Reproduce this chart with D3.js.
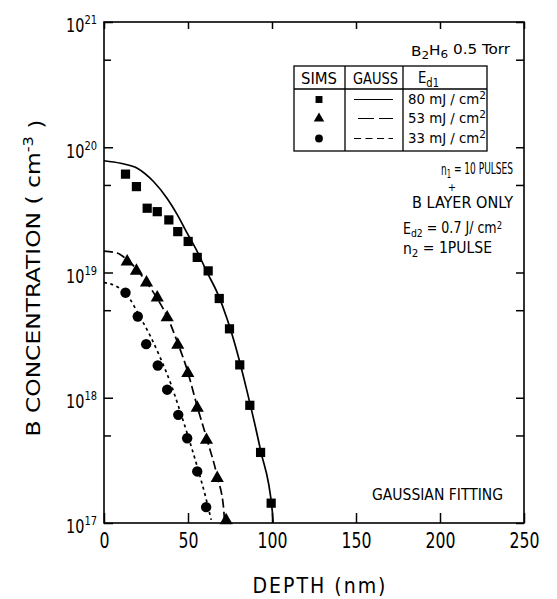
<!DOCTYPE html>
<html>
<head>
<meta charset="utf-8">
<script src="https://cdn.jsdelivr.net/npm/d3@7"></script>
<style>
  body { margin: 0; background: #fff; }
  svg { display: block; }
  text { font-family: "Liberation Sans Narrow", "DejaVu Sans Condensed", "Liberation Sans", sans-serif; fill: #000; }
</style>
</head>
<body>
<div id="chart"></div>
<script>
// SIMS data
var depth80 = [12.8, 19.3, 25.7, 31.7, 38.6, 43.9, 50.1, 55.5, 62, 68.6, 74.7, 80.8, 86.8, 93.2, 99.5];
var conc80 = [6.1e19, 4.85e19, 3.26e19, 3.06e19, 2.63e19, 2.12e19, 1.77e19, 1.32e19, 1.03e19, 6.2e18, 3.55e18, 1.83e18, 8.7e17, 3.66e17, 1.44e17];
var depth53 = [13.8, 19.3, 25.3, 31.7, 37.6, 43.9, 49.9, 55.5, 61, 67.4, 72.7];
var conc53 = [1.22e19, 1.03e19, 8.3e18, 6.3e18, 4.37e18, 2.64e18, 1.57e18, 8.3e17, 4.6e17, 2.28e17, 1.05e17];
var depth33 = [12.8, 20.1, 25.1, 32, 37.6, 44.2, 49.5, 55.5, 60.8];
var conc33 = [6.9e18, 4.45e18, 2.68e18, 1.81e18, 1.16e18, 7.3e17, 4.75e17, 2.58e17, 1.34e17];

// gaussian fitting curves
var fitDepth80 = [0, 9.8, 19.8, 29.6, 37.6, 43.6, 49.5, 55.5, 61.4, 67.4, 73.3, 79.3, 85.2, 93.2, 100.1, 100.7];
var fitConc80 = [7.8e19, 7.45e19, 6.8e19, 5.3e19, 3.9e19, 2.9e19, 2.06e19, 1.47e19, 1.0e19, 6.9e18, 4.25e18, 2.3e18, 1.12e18, 3.8e17, 1.27e17, 1.0e17];
var fitDepth53 = [0, 7.8, 13.8, 19.8, 25.7, 31.7, 37.6, 43.6, 49.5, 55.5, 61.4, 67.4, 71.3, 71.7];
var fitConc53 = [1.48e19, 1.43e19, 1.26e19, 1.05e19, 8.2e18, 6.2e18, 4.45e18, 2.8e18, 1.67e18, 8.5e17, 4.6e17, 2.35e17, 1.27e17, 1.0e17];
var fitDepth33 = [0, 7.8, 13.8, 20.7, 27.7, 33.6, 39.6, 44.5, 49.5, 55.5, 60.4, 63.8];
var fitConc33 = [8.3e18, 7.7e18, 6.6e18, 4.6e18, 3.08e18, 2.07e18, 1.31e18, 8.4e17, 5.2e17, 2.82e17, 1.63e17, 1.06e17];

var xTicks = [0, 50, 100, 150, 200, 250];
var yTicks = [1e17, 1e18, 1e19, 1e20, 1e21];
var yMinor = [5e17, 5e18, 5e19, 5e20];
var energies = ['80', '53', '33'];

var width = 557,
  height = 599;

var svg = d3
  .select('#chart')
  .append('svg')
  .attr('width', width)
  .attr('height', height);

var xScale = d3.scaleLinear().domain([0, 250]).range([104, 524]);
var yScale = d3.scaleLog().domain([1e17, 1e21]).range([523, 22]);

// squeeze a text to the width it has in the figure (the original font is narrow)
function fit(sel, w) {
  return sel.attr('textLength', w).attr('lengthAdjust', 'spacingAndGlyphs');
}

// frame
svg
  .append('rect')
  .attr('x', 104)
  .attr('y', 22)
  .attr('width', 420)
  .attr('height', 501)
  .attr('fill', 'none')
  .attr('stroke', '#000')
  .attr('stroke-width', 1.6);

function styleAxis(g) {
  g.select('.domain').remove();
  g.selectAll('.tick line').attr('stroke', '#000').attr('stroke-width', 1.5);
}

var xAxis = svg
  .append('g')
  .attr('transform', 'translate(0,523)')
  .call(d3.axisBottom(xScale).tickValues(xTicks).tickSize(-10).tickPadding(9))
  .call(styleAxis);
xAxis
  .selectAll('text')
  .style('font-size', '22px')
  .style('font-family', null)
  .attr('textLength', d => String(d).length * 10)
  .attr('lengthAdjust', 'spacingAndGlyphs');

svg
  .append('g')
  .attr('transform', 'translate(0,22)')
  .call(d3.axisTop(xScale).tickValues(xTicks).tickSize(-7).tickFormat(''))
  .call(styleAxis);

var yAxis = svg
  .append('g')
  .attr('transform', 'translate(104,0)')
  .call(d3.axisLeft(yScale).tickValues(yTicks).tickSize(-9).tickPadding(7))
  .call(styleAxis);

yAxis.selectAll('text').each(function (d) {
  var t = d3.select(this).text('').attr('dy', '0.52em').style('font-size', '19px').style('font-family', null);
  t.append('tspan').text('10');
  t.append('tspan')
    .attr('dy', '-0.62em')
    .style('font-size', '13px')
    .text(Math.round(Math.log10(d)));
  fit(t, 31);
});

svg
  .append('g')
  .attr('transform', 'translate(104,0)')
  .call(d3.axisLeft(yScale).tickValues(yMinor).tickSize(-7).tickFormat(''))
  .call(styleAxis);

svg
  .append('g')
  .attr('transform', 'translate(524,0)')
  .call(d3.axisRight(yScale).tickValues(yTicks.concat(yMinor)).tickSize(-8).tickFormat(''))
  .call(styleAxis);

// axis titles
fit(
  svg
    .append('text')
    .attr('x', 320)
    .attr('y', 593)
    .attr('text-anchor', 'middle')
    .style('font-size', '21px')
    .style('letter-spacing', '2px')
    .text('DEPTH  (nm)'),
  135
);

var yTitle = svg
  .append('text')
  .attr('transform', 'translate(40,278) rotate(-90)')
  .attr('text-anchor', 'middle')
  .style('font-size', '20px');
yTitle.append('tspan').text('B CONCENTRATION  ( cm');
yTitle.append('tspan').attr('dy', '-0.5em').style('font-size', '14px').text('-3');
yTitle.append('tspan').attr('dy', '0.5em').text(' )');
fit(yTitle, 317);

// fitting curves
var line = d3
  .line()
  .x(d => xScale(d[0]))
  .y(d => yScale(d[1]))
  .curve(d3.curveMonotoneX);

var fits = [
  { depth: fitDepth80, conc: fitConc80, dash: null },
  { depth: fitDepth53, conc: fitConc53, dash: '9,4' },
  { depth: fitDepth33, conc: fitConc33, dash: '3,3.5' }
];

fits.forEach(function (f) {
  svg
    .append('path')
    .datum(f.depth.map((d, i) => [d, f.conc[i]]))
    .attr('d', line)
    .attr('fill', 'none')
    .attr('stroke', '#000')
    .attr('stroke-width', 1.7)
    .attr('stroke-dasharray', f.dash);
});

// SIMS markers
var symbols = [d3.symbolSquare, d3.symbolTriangle, d3.symbolCircle];
var sizes = [85, 75, 85];
var series = [
  [depth80, conc80],
  [depth53, conc53],
  [depth33, conc33]
];

series.forEach(function (s, k) {
  svg
    .append('g')
    .selectAll('path')
    .data(s[0])
    .enter()
    .append('path')
    .attr('d', d3.symbol().type(symbols[k]).size(sizes[k]))
    .attr('transform', (d, i) => 'translate(' + xScale(d) + ',' + yScale(s[1][i]) + ')')
    .attr('fill', '#000');
});

// legend table
var lg = svg.append('g');
lg.append('rect')
  .attr('x', 294)
  .attr('y', 66)
  .attr('width', 193)
  .attr('height', 85)
  .attr('fill', '#fff')
  .attr('stroke', '#000')
  .attr('stroke-width', 1.3);
lg.append('line').attr('x1', 294).attr('x2', 487).attr('y1', 89).attr('y2', 89);
lg.append('line').attr('x1', 345).attr('x2', 345).attr('y1', 66).attr('y2', 151);
lg.append('line').attr('x1', 403).attr('x2', 403).attr('y1', 66).attr('y2', 151);
lg.selectAll('line').attr('stroke', '#000').attr('stroke-width', 1.3);

fit(lg.append('text').attr('x', 301).attr('y', 84).style('font-size', '16px').text('SIMS'), 36);
fit(lg.append('text').attr('x', 353).attr('y', 84).style('font-size', '16px').text('GAUSS'), 45);
var ed = lg.append('text').attr('x', 418).attr('y', 83).style('font-size', '16px');
ed.append('tspan').text('E');
ed.append('tspan').attr('dy', '0.3em').style('font-size', '12px').text('d1');
fit(ed, 21);

var rowY = [99.5, 118.5, 138.5];
var dashes = [null, '16,5', '7,4.5'];
var dashStart = [354, 358, 354];
energies.forEach(function (e, k) {
  lg.append('path')
    .attr('d', d3.symbol().type(symbols[k]).size(48))
    .attr('transform', 'translate(319,' + rowY[k] + ')')
    .attr('fill', '#000');
  lg.append('line')
    .attr('x1', dashStart[k])
    .attr('x2', 393)
    .attr('y1', rowY[k])
    .attr('y2', rowY[k])
    .attr('stroke', '#000')
    .attr('stroke-width', 1.2)
    .attr('stroke-dasharray', dashes[k]);
  var t = lg.append('text')
    .attr('x', 408)
    .attr('y', rowY[k] + 4)
    .style('font-size', '14px');
  t.append('tspan').text(e + ' mJ / cm');
  t.append('tspan').attr('dy', '-0.45em').style('font-size', '11px').text('2');
  fit(t, 78);
});

// annotations
var t1 = svg.append('text').attr('x', 411).attr('y', 56).style('font-size', '14px');
t1.append('tspan').text('B');
t1.append('tspan').attr('dy', '0.3em').style('font-size', '11px').text('2');
t1.append('tspan').attr('dy', '-0.3em').text('H');
t1.append('tspan').attr('dy', '0.3em').style('font-size', '11px').text('6');
t1.append('tspan').attr('dy', '-0.3em').text('  0.5 Torr');
fit(t1, 99);

var t2 = svg.append('text').attr('x', 441).attr('y', 175).style('font-size', '16px');
t2.append('tspan').text('n');
t2.append('tspan').attr('dy', '0.25em').style('font-size', '12px').text('1');
t2.append('tspan').attr('dy', '-0.25em').text(' = 10 PULSES');
fit(t2, 72);

svg.append('text').attr('x', 452).attr('y', 191).attr('text-anchor', 'middle').style('font-size', '11px').text('+');

fit(svg.append('text').attr('x', 412).attr('y', 208).style('font-size', '15px').text('B LAYER ONLY'), 101);

var t3 = svg.append('text').attr('x', 403).attr('y', 234).style('font-size', '15px');
t3.append('tspan').text('E');
t3.append('tspan').attr('dy', '0.25em').style('font-size', '11px').text('d2');
t3.append('tspan').attr('dy', '-0.25em').text(' = 0.7 J/ cm');
t3.append('tspan').attr('dy', '-0.4em').style('font-size', '10px').text('2');
fit(t3, 99);

var t4 = svg.append('text').attr('x', 403).attr('y', 254).style('font-size', '15px');
t4.append('tspan').text('n');
t4.append('tspan').attr('dy', '0.25em').style('font-size', '11px').text('2');
t4.append('tspan').attr('dy', '-0.25em').text(' = 1PULSE');
fit(t4, 89);

fit(svg.append('text').attr('x', 372).attr('y', 500).style('font-size', '16px').text('GAUSSIAN FITTING'), 131);
</script>
</body>
</html>
